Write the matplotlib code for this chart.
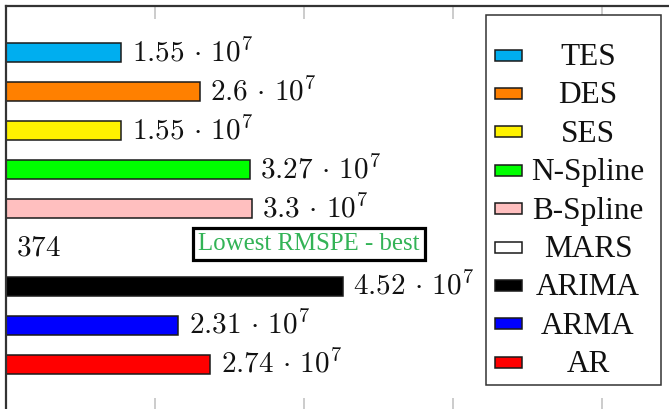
import matplotlib
matplotlib.use("Agg")
import matplotlib.pyplot as plt
from matplotlib.patches import Rectangle
import numpy as np

plt.rcParams["mathtext.fontset"] = "cm"

# Model names, RMSPE values and bar colours (top to bottom)
models = ["TES", "DES", "SES", "N-Spline", "B-Spline", "MARS", "ARIMA", "ARMA", "AR"]
rmspe = [1.55e7, 2.6e7, 1.55e7, 3.27e7, 3.3e7, 374, 4.52e7, 2.31e7, 2.74e7]
colors = ["#00AEEF", "#FF8000", "#FFF200", "#00FF00", "#FFBFBF",
          "#FFFFFF", "#000000", "#0000FF", "#FF0000"]
x_ticks = [2e7, 4e7, 6e7, 8e7]
note = "Lowest RMSPE - best"

W, H = 669, 409
fig = plt.figure(figsize=(W / 100, H / 100), dpi=100)


def fx(x):
    return x / W


def fy(y):
    return 1 - y / H


# axes spans a region larger than the figure on the right and bottom
ax = fig.add_axes([fx(6), fy(411), 670.5 / W, 405 / H])
ypos = np.arange(len(models))
ax.barh(ypos, rmspe, height=0.5, color=colors, edgecolor="#1a1a1a",
        linewidth=1.1, zorder=2)
ax.set_xlim(0, 9e7)
ax.set_ylim(len(models) - 1 + 1.2, -1.2)

for s in ["top", "left"]:
    ax.spines[s].set_color("#333333")
    ax.spines[s].set_linewidth(1.6)
for s in ["bottom", "right"]:
    ax.spines[s].set_visible(False)

ax.set_xticks(x_ticks)
ax.set_yticks([])
ax.tick_params(axis="x", direction="in", top=True, bottom=True, length=9.5,
               width=1.4, color="#cccccc", labelbottom=False, labeltop=False)


def sci_label(v):
    if v >= 1e4:
        e = int(np.floor(np.log10(v)))
        m = v / 10 ** e
        return r"$%s\,\cdot\,10^{%d}$" % (f"{m:g}", e)
    return r"$%g$" % v


for yi, v in zip(ypos, rmspe):
    ax.annotate(sci_label(v), xy=(v, yi), xytext=(7.5, 0),
                textcoords="offset points", ha="left", va="center",
                fontsize=21, color="#111111")

# note box next to the MARS row
ax.text(4.07e7, 4.92, note, ha="center", va="center", fontsize=17.9,
        family="Liberation Serif", color="#33b356",
        bbox=dict(boxstyle="square,pad=0.2", facecolor="white",
                  edgecolor="black", linewidth=2.3))

# legend box with centred entry names
fig.patches.append(Rectangle((fx(486), fy(385)), 175 / W, 370 / H,
                             transform=fig.transFigure, facecolor="white",
                             edgecolor="#333333", linewidth=1.1, zorder=5))
row0, step = 55, 38.4
for i, (name, c) in enumerate(zip(models, colors)):
    yc = row0 + step * i
    fig.patches.append(Rectangle((fx(495), fy(yc + 5.5)), 27 / W, 11 / H,
                                 transform=fig.transFigure, facecolor=c,
                                 edgecolor="#1a1a1a", linewidth=1.1, zorder=6))
    fig.text(fx(588), fy(yc + 10), name, ha="center", va="baseline",
             fontsize=22.5, family="Liberation Serif", color="#111111",
             zorder=6)

fig.savefig("out.png", dpi=100)
